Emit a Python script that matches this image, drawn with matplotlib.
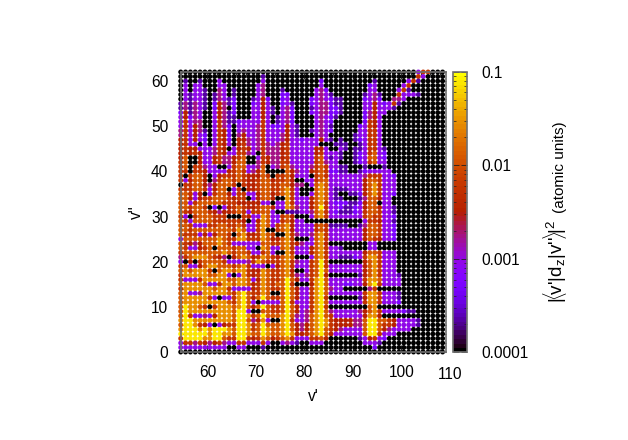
import numpy as np
import matplotlib
matplotlib.use('Agg')
import matplotlib.pyplot as plt
from matplotlib.colors import ListedColormap, LogNorm
from matplotlib.ticker import FixedLocator, NullFormatter

plt.rcParams['font.family'] = ['Liberation Sans', 'DejaVu Sans']
plt.rcParams['mathtext.fontset'] = 'custom'
plt.rcParams['mathtext.rm'] = 'Liberation Sans'
plt.rcParams['mathtext.it'] = 'Liberation Sans'
plt.rcParams['mathtext.default'] = 'rm'

# Dipole matrix elements, estimated per point from the picture.
# Each digit indexes level_values. Top row is v''=62, first column is the left edge.
level_values = [1e-4, 2.3e-4, 5.6e-4, 9e-4, 1.8e-3, 3.2e-3, 5.5e-3, 1.2e-2, 2.8e-2, 8e-2]
first_v1 = 54.5
rows = [
    "00000 00000 00000 00000 00000 00000 00000 00000 00000 00003 66000",
    "00000 00000 00000 00100 00000 00000 00000 00000 00000 00006 30000",
    "01001 00030 00000 00300 00000 00002 00000 00000 10000 00361 00000",
    "03033 00033 00000 03400 00000 00003 00000 00002 30000 03600 00000",
    "03033 10043 01000 03400 01000 00034 20000 00003 30000 36100 00000",
    "03133 10143 01000 03400 02200 00034 31000 00013 41000 63331 00000",
    "03133 10143 12000 13520 02300 00234 32110 00023 42004 43000 00000",
    "14143 10254 12000 23530 02310 00234 42110 00033 53236 10000 00000",
    "14143 10254 02000 33531 03420 00134 42210 00033 53331 00000 00000",
    "25143 00354 12000 33531 03420 00234 42210 00024 53300 00000 00000",
    "35243 00354 11000 33530 13420 00034 32100 00024 53000 00000 00000",
    "36344 00364 11233 33630 13420 00034 32000 00026 53000 00000 00000",
    "36354 00364 20333 34632 23531 00034 31000 00236 53000 00000 00000",
    "46354 10365 20343 34633 33531 00134 32000 00336 63000 00000 00000",
    "46353 20365 20453 34633 34531 00034 30000 01336 63000 00000 00000",
    "56353 20365 20554 34633 34533 23335 31010 01236 63000 00000 00000",
    "56330 30365 30564 34643 45633 33330 00111 00136 63000 00000 00000",
    "56553 33465 03565 34644 45633 33355 30031 01136 63100 00000 00000",
    "56565 33465 33664 30644 45633 33356 33310 01236 73200 00000 00000",
    "57005 33564 45670 03654 45633 33367 31310 01237 73200 00000 00000",
    "67005 33564 45770 04654 46633 33367 43300 01236 73300 00000 00000",
    "67066 43300 36773 34703 46743 33467 63311 00010 00100 00000 00000",
    "66066 53333 56763 45700 00754 33567 62211 00123 33330 00000 00000",
    "60677 50356 66765 55760 66753 33067 63333 33346 66332 00000 00000",
    "63577 50467 76765 56775 66750 03367 73333 33357 76333 00000 00000",
    "06677 54577 76065 56776 67754 40378 73333 33357 86333 00000 00000",
    "66677 63577 03605 56776 67863 00078 73111 33357 86333 00000 00000",
    "77635 03677 53663 35775 67863 00378 73100 11257 86332 00000 00000",
    "77535 66777 65660 35775 00863 33578 73110 00147 75330 00000 00000",
    "77367 77776 66555 55330 33863 33578 63222 11257 70330 00000 00000",
    "77677 60203 56765 56775 33874 33579 63321 12357 75331 00000 00000",
    "76577 76545 56763 66773 00111 33478 63211 12367 76331 00000 00000",
    "63067 77666 00065 33873 36750 00378 63333 33367 66332 00000 00000",
    "76377 77666 66650 35873 36753 30000 00000 00036 65331 00000 00000",
    "77633 36677 66763 36873 67853 33367 61111 00147 76332 00000 00000",
    "77677 77777 76873 36800 67853 33367 63333 33357 76332 00000 00000",
    "76663 53577 60785 56876 00864 33478 63333 33357 76332 00000 00000",
    "37777 77787 66886 66875 57860 00378 63333 33357 65332 00000 00000",
    "76545 77787 63333 33776 67865 43378 50000 00003 30000 00000 00000",
    "76335 67077 76773 30873 37863 33578 63310 00003 30000 00000 00000",
    "67777 77778 76776 33673 00863 33578 63333 33357 76333 00000 00000",
    "46788 87654 05787 56876 57870 00378 63311 12368 86333 00000 00000",
    "30506 77776 33334 68766 67864 33679 60000 00057 86333 00000 00000",
    "67335 78877 76786 33303 57863 33679 63333 33357 86333 00000 00000",
    "78788 86078 87886 55876 67850 03679 73333 33357 86333 00000 00000",
    "68888 87788 30386 56876 67864 34679 50000 00157 86333 10000 00000",
    "63336 88888 77887 35876 67975 33689 73333 33368 87333 30000 00000",
    "78888 73368 87887 56876 77960 00589 73332 23358 96333 30000 00000",
    "68888 88788 63333 56876 67975 33689 74330 00004 60000 00000 00000",
    "78334 88888 76897 66870 07975 33689 73333 33368 86333 10000 00000",
    "78888 86303 36897 57976 67975 33689 60000 00158 86333 10000 00000",
    "78888 88888 76897 30333 37963 33689 73333 33368 86333 20000 00000",
    "79887 60688 87897 57976 67975 33689 60000 00007 80000 00000 00000",
    "79888 88888 87993 00776 67975 34689 74333 33457 86333 32110 00000",
    "79633 43588 87998 67977 78974 34789 76333 33358 85000 00000 00000",
    "89988 88888 87997 45830 08963 34789 86555 54479 97765 33331 00000",
    "79986 53035 66998 67977 78975 45789 86555 54479 97665 33331 00000",
    "89998 98999 87998 67987 78975 45789 76543 33379 97543 33300 00000",
    "99999 98998 87998 77987 78985 56789 75333 33379 96333 00000 00000",
    "69999 88997 66996 56875 67863 33667 50000 00135 63200 00000 00000",
    "36646 54564 33663 33630 03431 00333 00000 00033 31000 00000 00000",
    "33333 33333 00330 00100 00000 00000 00000 00000 20000 00000 00000",
    "00000 00000 00000 00000 00000 00000 00000 00000 00000 00000 00000",
]
xticks = [60, 70, 80, 90, 100]
yticks = [0, 10, 20, 30, 40, 50, 60]
cbar_ticks = [0.0001, 0.001, 0.01, 0.1]
cbar_labels = ['0.0001', '0.001', '0.01', '0.1']

levels = np.array([[int(c) for c in r.replace(' ', '')] for r in rows])
z = np.array(level_values)[levels]
vpp = 62 - np.arange(len(rows))
vp = first_v1 + np.arange(levels.shape[1])
X, Y = np.meshgrid(vp, vpp)

# gnuplot default pm3d palette (rgbformulae 7,5,15)
t = np.linspace(0, 1, 64)
pal = np.clip(np.c_[np.sqrt(t), t**3, np.sin(2 * np.pi * t)], 0, 1)
cmap = ListedColormap(pal)
norm = LogNorm(1e-4, 0.1)

W, H = 628, 440
fig = plt.figure(figsize=(W / 100, H / 100), dpi=100)
ax = fig.add_axes([180.7 / W, 1 - 352 / H, (446 - 180.7) / W, (352 - 72) / H])

sc = ax.scatter(X.ravel(), Y.ravel(), c=z.ravel(), cmap=cmap, norm=norm,
                s=12.5, linewidths=0, clip_on=False, zorder=2)
ax.set_xlim(first_v1, first_v1 + (446 - 180.7) / 4.85)
ax.set_ylim(0, 62)

ax.set_xticks(xticks)
ax.set_yticks(yticks)
ax.xaxis.set_minor_locator(FixedLocator(np.arange(56, 110, 2)))
ax.yaxis.set_minor_locator(FixedLocator(np.arange(0, 63, 2)))
ax.tick_params(which='major', direction='in', length=5, width=0.8, top=True, right=True,
               labelsize=11.2, color='#303030', pad=9)
ax.tick_params(which='minor', direction='in', length=2.5, width=0.8, top=True, right=True,
               color='#303030')
for s in ax.spines.values():
    s.set_linewidth(1.2)
    s.set_color('#707070')
    s.set_zorder(3)
# 110 sits just past the right edge of the frame
ax.annotate('110', xy=(110, 0), xycoords=('data', 'axes fraction'), xytext=(0, -10.6),
            textcoords='offset points', ha='center', va='top', fontsize=11.2,
            annotation_clip=False)
ax.set_xlabel("v'", fontsize=11.2, labelpad=7)
ax.set_ylabel("v''", fontsize=11.2, labelpad=5)

cax = fig.add_axes([453.3 / W, 1 - 352.3 / H, 14 / W, (352.3 - 71.7) / H])
cb = fig.colorbar(sc, cax=cax)
cb.set_ticks(cbar_ticks, labels=cbar_labels)
cax.tick_params(which='major', direction='in', length=4, width=0.6, left=True, right=True,
                labelsize=11.2, pad=10, color='#202020')
cax.tick_params(which='minor', direction='in', length=2, width=0.5, left=True, right=True,
                color='#202020')
cax.yaxis.set_minor_formatter(NullFormatter())
cb.outline.set_linewidth(1.2)
cb.outline.set_edgecolor('#707070')

fig.text(555 / W, 1 - 303 / H, r"$|\!\langle\!$v'$|$d$_z|$v''$\!\rangle\!|^2$", rotation=90,
         ha='center', va='bottom', fontsize=13.6)
fig.text(560 / W, 1 - 167 / H, "(atomic units)", rotation=90, ha='center', va='center',
         fontsize=11)

fig.savefig('out.png', dpi=100)
